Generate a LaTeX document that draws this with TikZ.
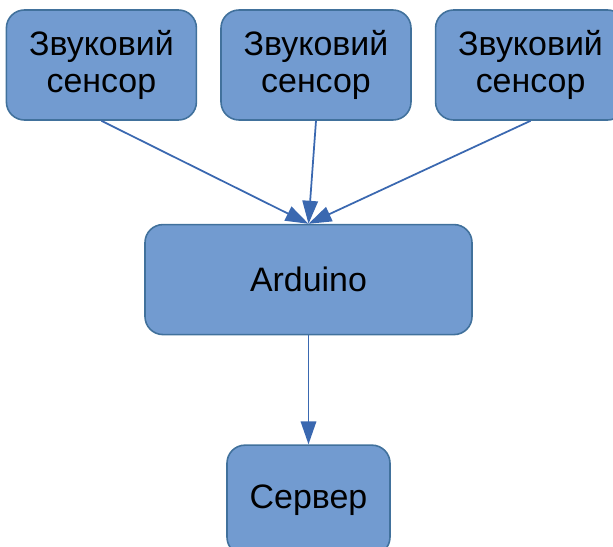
\documentclass[tikz,border=0pt]{standalone}
\usepackage{fontspec}
\setmainfont{Liberation Sans}
\usepackage{xcolor}
\usepackage{tikz}
\usetikzlibrary{
arrows.meta,
positioning
}
\definecolor{boxfill}{HTML}{729BD0}
\definecolor{boxline}{HTML}{41719C}
\definecolor{arrowblue}{HTML}{3A68B0}

\begin{document}
\begin{tikzpicture}[
node distance=0.46cm,
box/.style={
rectangle,
rounded corners=0.36cm,
draw=boxline,
line width=0.9pt,
fill=boxfill,
minimum height=2.2cm,
align=center,
font=\fontsize{19.3pt}{21pt}\selectfont
},
sensor/.style={box, minimum width=3.8cm},
arrow/.style={-{Triangle[length=0.46cm,width=0.31cm]},draw=arrowblue,fill=arrowblue,line width=1pt}
]
\useasboundingbox (0,0) rectangle (12.26,-10.94);
\clip (0,0) rectangle (12.26,-10.94);

\node[sensor] (sensor2) at (6.32,-1.30) {Звуковий\\сенсор};
\node[sensor, left=of sensor2] (sensor1) {Звуковий\\сенсор};
\node[sensor, right=of sensor2] (sensor3) {Звуковий\\сенсор};

\node[box, minimum width=6.54cm, below=2.06cm of sensor2, xshift=-0.15cm]
(arduino) {Arduino};

\node[box, minimum width=3.26cm, below=2.18cm of arduino]
(server) {Сервер};

\draw[arrow] (sensor1.south) -- (arduino.north);
\draw[arrow] (sensor2.south) -- (arduino.north);
\draw[arrow] (sensor3.south) -- (arduino.north);
\draw[arrow] (arduino) -- (server);

\end{tikzpicture}
\end{document}
